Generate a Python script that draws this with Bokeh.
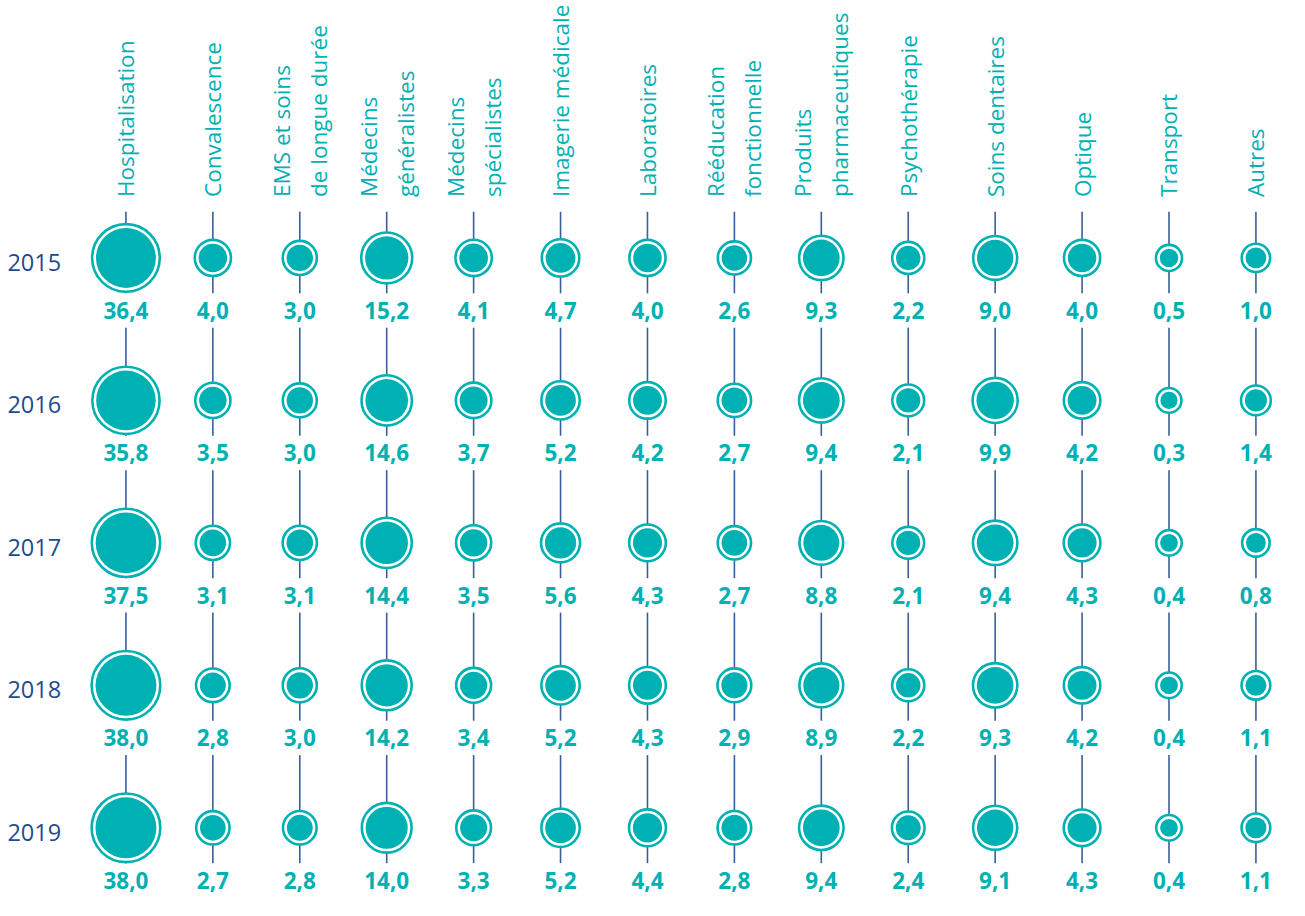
import math
from bokeh.plotting import figure
from bokeh.models import Range1d, ColumnDataSource
from bokeh.core.properties import value
from bokeh.embed import file_html
from bokeh.resources import INLINE

categories = ["Hospitalisation", "Convalescence", "EMS et soins\nde longue durée",
              "Médecins\ngénéralistes", "Médecins\nspécialistes", "Imagerie médicale",
              "Laboratoires", "Rééducation\nfonctionnelle", "Produits\npharmaceutiques",
              "Psychothérapie", "Soins dentaires", "Optique", "Transport", "Autres"]
years = ["2015", "2016", "2017", "2018", "2019"]
v2015 = [36.4, 4.0, 3.0, 15.2, 4.1, 4.7, 4.0, 2.6, 9.3, 2.2, 9.0, 4.0, 0.5, 1.0]
v2016 = [35.8, 3.5, 3.0, 14.6, 3.7, 5.2, 4.2, 2.7, 9.4, 2.1, 9.9, 4.2, 0.3, 1.4]
v2017 = [37.5, 3.1, 3.1, 14.4, 3.5, 5.6, 4.3, 2.7, 8.8, 2.1, 9.4, 4.3, 0.4, 0.8]
v2018 = [38.0, 2.8, 3.0, 14.2, 3.4, 5.2, 4.3, 2.9, 8.9, 2.2, 9.3, 4.2, 0.4, 1.1]
v2019 = [38.0, 2.7, 2.8, 14.0, 3.3, 5.2, 4.4, 2.8, 9.4, 2.4, 9.1, 4.3, 0.4, 1.1]
series = [v2015, v2016, v2017, v2018, v2019]

TEAL = "#00b1b4"
LINE = "#3a5e9b"
YEAR = "#1f4b8e"

W, H = 1289, 900
SX, SY = W / 1305.0, H / 916.0
COL0, COLSTEP = 127.0 * SX, 88.0 * SX
ROW0, ROWSTEP = 262.0 * SY, 145.0 * SY

def px_x(px):
    return (px - COL0) / COLSTEP

def px_y(px):
    return (px - ROW0) / ROWSTEP

p = figure(width=W, height=H, output_backend="svg", toolbar_location=None,
           x_range=Range1d(px_x(0), px_x(W)), y_range=Range1d(px_y(H), px_y(0)),
           x_axis_location=None, y_axis_location=None, min_border=0)
p.grid.visible = False
p.outline_line_color = None
p.background_fill_color = "white"

n_cols = len(categories)
n_rows = len(years)
lab_off = 53.5 * SY / ROWSTEP
gap = 17.5 * SY / ROWSTEP
top = px_y(215 * SY)

# vertical connector segments
x0, y0, x1, y1 = [], [], [], []
for i in range(n_cols):
    start = top
    for r in range(n_rows):
        x0.append(i); x1.append(i)
        y0.append(start); y1.append(r + lab_off - gap)
        start = r + lab_off + gap
p.segment(x0=x0, y0=y0, x1=x1, y1=y1, line_color=LINE, line_width=1.6)

# bubbles
xs, ys, inner, outer, labels = [], [], [], [], []
for r, vals in enumerate(series):
    for i, v in enumerate(vals):
        d = (13.1 + 7.94 * math.sqrt(v)) * SY
        xs.append(i); ys.append(r)
        inner.append(d); outer.append(d + 7.7)
        labels.append(f"{v:.1f}".replace(".", ","))
src = ColumnDataSource(dict(x=xs, y=ys, inner=inner, outer=outer, label=labels,
                            ly=[y + lab_off for y in ys]))
p.scatter("x", "y", source=src, size="outer", fill_color="white",
          line_color=TEAL, line_width=2.6)
p.scatter("x", "y", source=src, size="inner", fill_color=TEAL, line_color=None)

# value labels
p.text("x", "ly", text="label", source=src, text_color=TEAL,
       text_font=value("Open Sans"), text_font_style="bold", text_font_size="22.5px",
       text_align="center", text_baseline="middle")

# year labels
p.text(x=[px_x(7 * SX)] * n_rows, y=[r + 0.03 for r in range(n_rows)], text=years,
       text_color=YEAR, text_font=value("Open Sans"), text_font_size="23.5px",
       text_align="left", text_baseline="middle")

# category labels (rotated)
p.text(x=list(range(n_cols)), y=[px_y(200 * SY)] * n_cols, text=categories,
       angle=math.pi / 2, text_color=TEAL, text_font=value("Open Sans"),
       text_font_size="22.5px", text_align="left", text_baseline="middle",
       text_line_height=1.2)

open("out.html", "w").write(file_html(p, INLINE))
